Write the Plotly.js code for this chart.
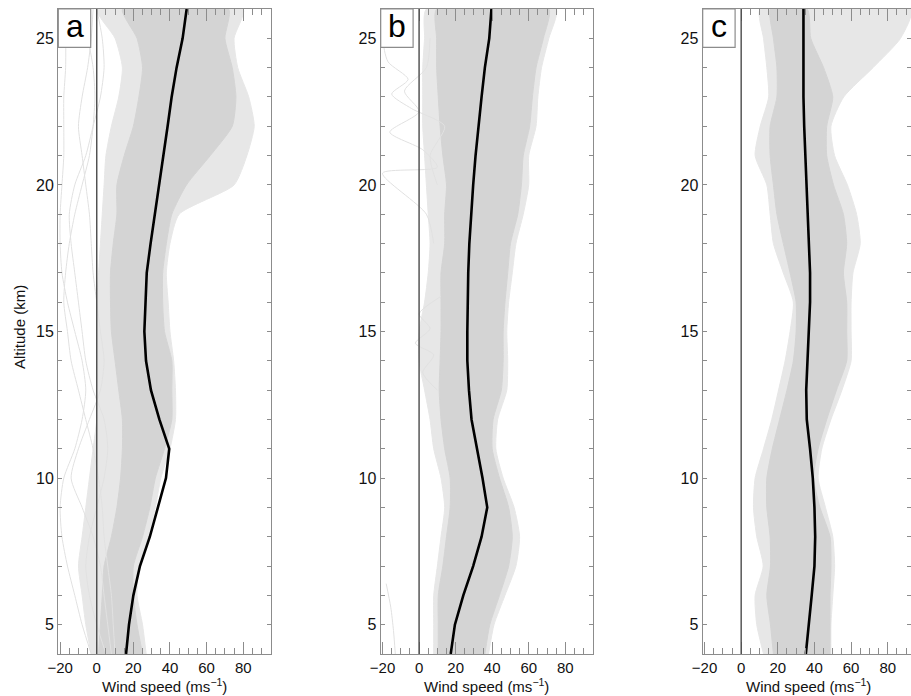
<!DOCTYPE html>
<html>
<head>
<meta charset="utf-8">
<script src="https://cdn.plot.ly/plotly-3.0.1.min.js"></script>
<style>html,body{margin:0;padding:0;background:#fff;overflow:hidden}#chart{width:911px;height:696px}</style>
</head>
<body>
<div id="chart"></div>
<script>
// Altitude levels (km)
const alt = [4,5,6,7,8,9,10,11,12,13,14,15,16,17,18,19,20,21,22,23,24,25,26];

// Panel a
const meanA    = [16, 17.6, 20, 23.6, 29, 33.6, 37.8, 39.6, 34.2, 29.6, 26.9, 26, 26.6, 27.3, 29.4, 31.8, 34.2, 36.7, 38.7, 40.9, 43.6, 46.9, 49.1];
const coreLoA  = [1, 2, 3, 4, 8, 11, 13, 14, 14, 12, 10, 8, 7.5, 7.5, 9, 11, 11, 15, 20, 23, 25, 22, 14];
const coreHiA  = [25, 22, 20, 20, 25, 29, 32, 37, 41, 41, 41, 37, 36, 36, 38, 41, 49, 62, 74, 76, 74, 70, 72];
const outerLoA = [-3, -6, -8, -10, -8, -6, -4, -2, 0, 0, 0, 0, 0, 1, 2, 3, 4, 5, 8, 12, 14, 10, 0];
const outerHiA = [27, 25, 22, 23, 28, 32, 35, 40, 43, 43, 42, 40, 39, 38, 40, 45, 75, 82, 86, 83, 77, 75, 80];
const outA1 = [-3, -8, -12, -16, -19, -20, -18, -12, -8, -6, -8, -12, -16, -19, -20, -20, -19, -18, -18, -18, -17, -17, -18];
const outA2 = [5, 0, -4, -6, -4, 0, 4, 6, 4, -2, -6, -8, -10, -12, -14, -15, -12, -6, -2, 2, 4, 3, 0];
const outA3 = [8, 6, 4, 2, -2, -8, -14, -10, -4, 2, 4, 2, 0, -2, -3, -4, -6, -8, -10, -8, -5, -3, -2];
const outA4 = [10, 9, 8, 6, 4, 3, 1, -2, -6, -10, -14, -16, -18, -17, -15, -12, -8, -4, -2, -1, -2, -5, -10];

// Panel b
const meanB    = [17.3, 19.6, 24.2, 29.6, 34.2, 37.3, 34.7, 31.5, 28.7, 27.3, 26.4, 26.4, 26.5, 26.9, 27.5, 28.4, 29.6, 30.9, 32.4, 34.2, 36, 38.4, 39.6];
const coreLoB  = [10.5, 10.5, 10.5, 13, 15, 17, 17, 14, 12, 11, 11.5, 12, 12, 12, 14, 14, 15, 13, 11.5, 10.5, 9.6, 9.6, 9.6];
const coreHiB  = [36, 38.7, 44, 49, 51, 49, 44, 40, 40.5, 45, 46, 46, 47, 48.5, 50, 54, 56, 57, 60.5, 62, 64, 68, 71];
const outerLoB = [8, 8, 8, 10, 12, 14, 12, 8, 6, 3, 0, 0, 3, 5, 6, 5, 4, 3, 2, 2, 2, 3, 4];
const outerHiB = [38, 41, 47, 53, 55, 52, 46, 42, 43, 48, 48.5, 48, 49, 51, 53, 57, 60, 60, 64, 65, 67, 71, 75];
const outB1Alt = [13, 13.6, 14.2, 14.6, 15.1, 15.6, 16.2];
const outB1    = [10, 2, 8, -2, 6, 0, 12];
const outB2Alt = [18, 19, 20.4, 20.6, 21.2, 21.8, 22.5, 23.2, 24, 25];
const outB2    = [8, 4, -20, 10, 2, -16, 0, -8, 4, 6];
const outB3Alt = [20, 21, 22, 22.6, 23.1, 23.6, 24.2, 25, 26];
const outB3    = [10, 6, 14, -4, -15, -6, -17, -20, -20];
const outB4Alt = [4, 4.8, 5.6, 6.4];
const outB4    = [-13, -14, -15.5, -18];

// Panel c
const meanC    = [35.3, 36.7, 38.5, 40, 40.4, 40, 39.1, 37.6, 35.8, 35.5, 36.2, 36.7, 37.6, 37.6, 36.9, 36.2, 35.5, 34.9, 34.4, 34, 34, 34, 34];
const coreLoC  = [17.6, 16, 14, 16, 15.8, 14, 14, 17, 21, 25, 28.5, 30, 30, 26.7, 23, 19.5, 17.6, 15.8, 15.8, 19.5, 19.5, 17.6, 16];
const coreHiC  = [48.5, 48.5, 48.5, 49, 48.5, 43, 39.5, 42, 46.7, 52, 57.6, 57.6, 57.6, 55.8, 57.6, 55.8, 50.4, 46.7, 46.7, 50, 45, 38, 36];
const outerLoC = [12.2, 8.5, 7.6, 12, 8.5, 6.7, 7.6, 12.2, 16.7, 20.4, 24, 26.7, 28.5, 23, 17.6, 15.8, 14, 7.6, 10.4, 15, 14, 12.2, 10.4];
const outerHiC = [49, 49, 50, 51, 50, 46, 42, 44, 49, 55, 60, 60, 60, 61, 65, 63, 58, 51, 49, 56, 72, 87, 93];

const xTicks = [-20, 0, 20, 40, 60, 80];
const yTicks = [5, 10, 15, 20, 25];
const panelLabels = ['a', 'b', 'c'];

const FONT = 'Liberation Sans, Arial, Helvetica, sans-serif';
const OUTER = '#e7e7e7', CORE = '#d4d4d4', THIN = '#e1e1e1';

function band(lo, hi, ax, color) {
  return {x: lo.concat(hi.slice().reverse()), y: alt.concat(alt.slice().reverse()),
    xaxis: ax.x, yaxis: ax.y, type: 'scatter', mode: 'lines', fill: 'toself',
    fillcolor: color, line: {color: color, width: 1, shape: 'spline', smoothing: 0.6},
    hoverinfo: 'skip', showlegend: false};
}
function thin(x, y, ax) {
  return {x: x, y: y, xaxis: ax.x, yaxis: ax.y, type: 'scatter', mode: 'lines',
    line: {color: THIN, width: 1, shape: 'spline', smoothing: 0.7}, hoverinfo: 'skip', showlegend: false};
}
function mean(x, ax) {
  return {x: x, y: alt, xaxis: ax.x, yaxis: ax.y, type: 'scatter', mode: 'lines',
    line: {color: '#000', width: 2.6}, showlegend: false};
}
const A = {x: 'x', y: 'y'}, B = {x: 'x2', y: 'y2'}, C = {x: 'x3', y: 'y3'};

const data = [
  band(outerLoA, outerHiA, A, OUTER), band(coreLoA, coreHiA, A, CORE),
  thin(outA1, alt, A), thin(outA2, alt, A), thin(outA3, alt, A), thin(outA4, alt, A),
  mean(meanA, A),
  band(outerLoB, outerHiB, B, OUTER), band(coreLoB, coreHiB, B, CORE),
  thin(outB1, outB1Alt, B), thin(outB2, outB2Alt, B), thin(outB3, outB3Alt, B), thin(outB4, outB4Alt, B),
  mean(meanB, B),
  band(outerLoC, outerHiC, C, OUTER), band(coreLoC, coreHiC, C, CORE),
  mean(meanC, C)
];

const W = 911, H = 696, T = 9, Bm = 42;
const px = v => v / W;                       // pixel x -> paper x
const py = v => (H - Bm - v) / (H - T - Bm); // pixel y -> paper y

const AX = '#8c8c8c';
function xax(domain, range) {
  return {domain: domain, range: range, showgrid: false, zeroline: false, showline: true,
    linecolor: AX, linewidth: 1.2, mirror: 'ticks', ticks: 'inside', ticklen: 12, tickwidth: 1,
    tickcolor: AX, tickvals: xTicks, ticklabelstandoff: 0, tickfont: {family: FONT, size: 15, color: '#111'},
    minor: {ticks: 'inside', dtick: 5, tick0: 0, ticklen: 6, tickcolor: AX, tickwidth: 1},
    fixedrange: true};
}
function yax(anchor) {
  return {anchor: anchor, domain: [0, 1], range: [4, 26], showgrid: false, zeroline: false, showline: true,
    linecolor: AX, linewidth: 1.2, mirror: 'ticks', ticks: 'inside', ticklen: 4, tickwidth: 1,
    tickcolor: AX, tickvals: yTicks, tickfont: {family: FONT, size: 16, color: '#111'},
    minor: {ticks: 'inside', dtick: 1, tick0: 0, ticklen: 4, tickcolor: AX, tickwidth: 1},
    fixedrange: true};
}
const panels = [
  {l: 58.3, r: 270.7, range: [-21, 95], xa: 'x', ya: 'y'},
  {l: 380.7, r: 592.7, range: [-21, 95], xa: 'x2', ya: 'y2'},
  {l: 702.7, r: 911, range: [-21, 92.7], xa: 'x3', ya: 'y3'}
];

const shapes = [], annotations = [];
panels.forEach((p, i) => {
  shapes.push({type: 'line', xref: p.xa, yref: p.ya + ' domain', x0: 0, x1: 0, y0: 0, y1: 1,
    line: {color: '#4a4a4a', width: 1.4}, layer: 'above'});
  shapes.push({type: 'rect', xref: 'paper', yref: 'paper', x0: px(p.l), x1: px(p.l + 32.4),
    y0: py(47.3), y1: 1, line: {color: AX, width: 1.2}, fillcolor: '#fff', layer: 'above'});
  annotations.push({xref: 'paper', yref: 'paper', x: px(p.l + 16.2), y: py(26), text: panelLabels[i],
    showarrow: false, xanchor: 'center', yanchor: 'middle', font: {family: FONT, size: 32, color: '#000'}});
  annotations.push({xref: 'paper', yref: 'paper', x: px((p.l + p.l + 212.4) / 2), y: py(685.5),
    text: 'Wind speed (ms<sup>\u22121</sup>)', showarrow: false, xanchor: 'center', yanchor: 'middle',
    borderpad: 0, font: {family: FONT, size: 15, color: '#111'}});
});
annotations.push({xref: 'paper', yref: 'paper', x: px(19), y: py(327), text: 'Altitude (km)', textangle: -90,
  showarrow: false, xanchor: 'center', yanchor: 'middle', font: {family: FONT, size: 15, color: '#111'}});

const layout = {
  width: W, height: H, margin: {l: 0, r: 0, t: T, b: Bm, pad: 0},
  paper_bgcolor: '#fff', plot_bgcolor: '#fff', showlegend: false,
  xaxis: xax([px(58.3), px(270.7)], panels[0].range),
  xaxis2: xax([px(380.7), px(592.7)], panels[1].range),
  xaxis3: xax([px(702.7), 1], panels[2].range),
  yaxis: yax('x'), yaxis2: yax('x2'), yaxis3: yax('x3'),
  shapes: shapes, annotations: annotations
};
layout.xaxis.anchor = 'y'; layout.xaxis2.anchor = 'y2'; layout.xaxis3.anchor = 'y3';

Plotly.newPlot('chart', data, layout, {staticPlot: true, displayModeBar: false});
</script>
</body>
</html>
